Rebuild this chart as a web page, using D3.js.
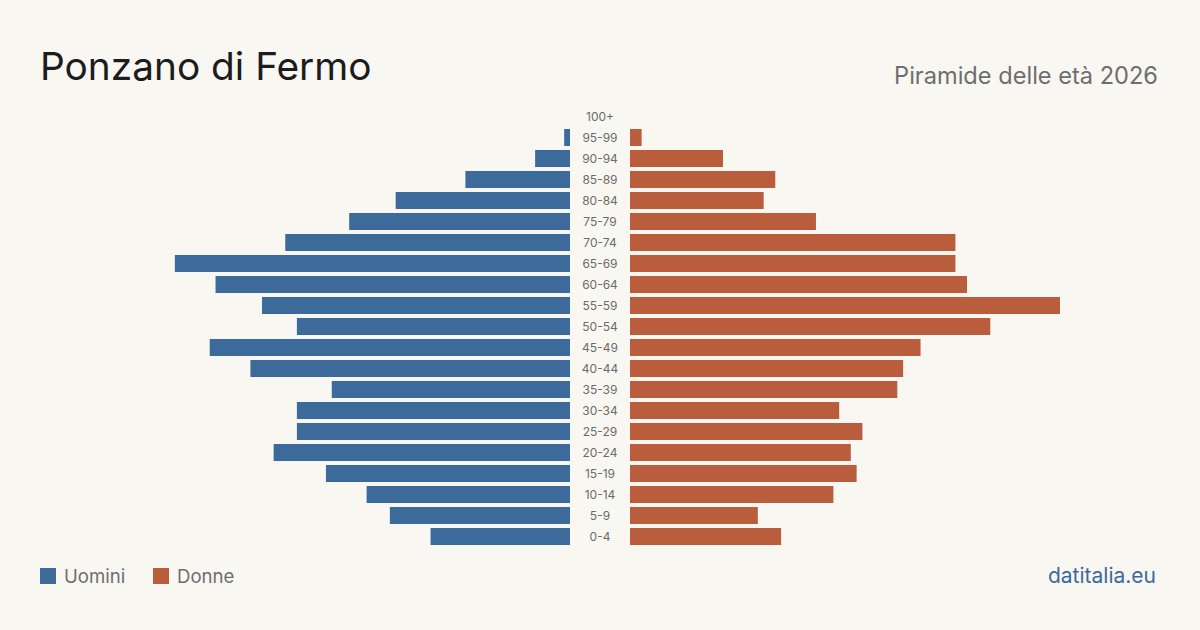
<!DOCTYPE html>
<html><head><meta charset="utf-8">
<script src="https://cdn.jsdelivr.net/npm/d3@7"></script>
<style>
html,body{margin:0;padding:0;background:#f9f7f2;}
svg{display:block;font-family:Inter,"Noto Sans",sans-serif;}
</style></head>
<body><svg id="c" width="1200" height="630"></svg>
<script>
const ageGroups = ["100+","95-99","90-94","85-89","80-84","75-79","70-74","65-69","60-64","55-59","50-54","45-49","40-44","35-39","30-34","25-29","20-24","15-19","10-14","5-9","0-4"];
const men   = [0,1,6,18,30,38,49,68,61,53,47,62,55,41,47,47,51,42,35,31,24];
const women = [0,2,16,25,23,32,56,56,58,74,62,50,47,46,36,40,38,39,35,22,26];
const title = "Ponzano di Fermo";
const subtitle = "Piramide delle età 2026";
const legendLabels = ["Uomini","Donne"];
const source = "datitalia.eu";

const W=1200,H=630;
const colMen="#3b6a9b", colWomen="#b95d3c";
const svg=d3.select("#c");
svg.append("rect").attr("width",W).attr("height",H).attr("fill","#f9f7f2");

const y=d3.scaleBand().domain(ageGroups).range([106,547]).paddingInner(0.19).paddingOuter(0.095);
const maxV=d3.max(men.concat(women));
const xL=d3.scaleLinear().domain([0,maxV]).range([0,430]);
const cL=570,cR=630;

svg.append("g").selectAll("rect").data(ageGroups).join("rect")
  .attr("x",(d,i)=>cL-xL(men[i])).attr("y",d=>y(d))
  .attr("width",(d,i)=>xL(men[i])).attr("height",y.bandwidth()).attr("fill",colMen);
svg.append("g").selectAll("rect").data(ageGroups).join("rect")
  .attr("x",cR).attr("y",d=>y(d))
  .attr("width",(d,i)=>xL(women[i])).attr("height",y.bandwidth()).attr("fill",colWomen);

svg.append("g").selectAll("text").data(ageGroups).join("text")
  .attr("x",600).attr("y",d=>y(d)+y.bandwidth()/2).attr("dy","0.35em")
  .attr("text-anchor","middle").attr("font-size",12).attr("fill","#6b6b6b").text(d=>d);

svg.append("text").attr("x",40).attr("y",80).attr("font-size",38.8).attr("fill","#1c1c1c").text(title);
svg.append("text").attr("x",1158).attr("y",84).attr("text-anchor","end").attr("font-size",23.6).attr("fill","#6e6e6e").text(subtitle);

const lg=svg.append("g");
lg.append("rect").attr("x",40).attr("y",568).attr("width",16).attr("height",16).attr("fill",colMen);
lg.append("text").attr("x",64).attr("y",583).attr("font-size",18.6).attr("fill","#6e6e6e").text(legendLabels[0]);
lg.append("rect").attr("x",153).attr("y",568).attr("width",16).attr("height",16).attr("fill",colWomen);
lg.append("text").attr("x",177).attr("y",583).attr("font-size",18.6).attr("fill","#6e6e6e").text(legendLabels[1]);
svg.append("text").attr("x",1156).attr("y",583).attr("text-anchor","end").attr("font-size",21).attr("fill",colMen).text(source);
</script></body></html>
